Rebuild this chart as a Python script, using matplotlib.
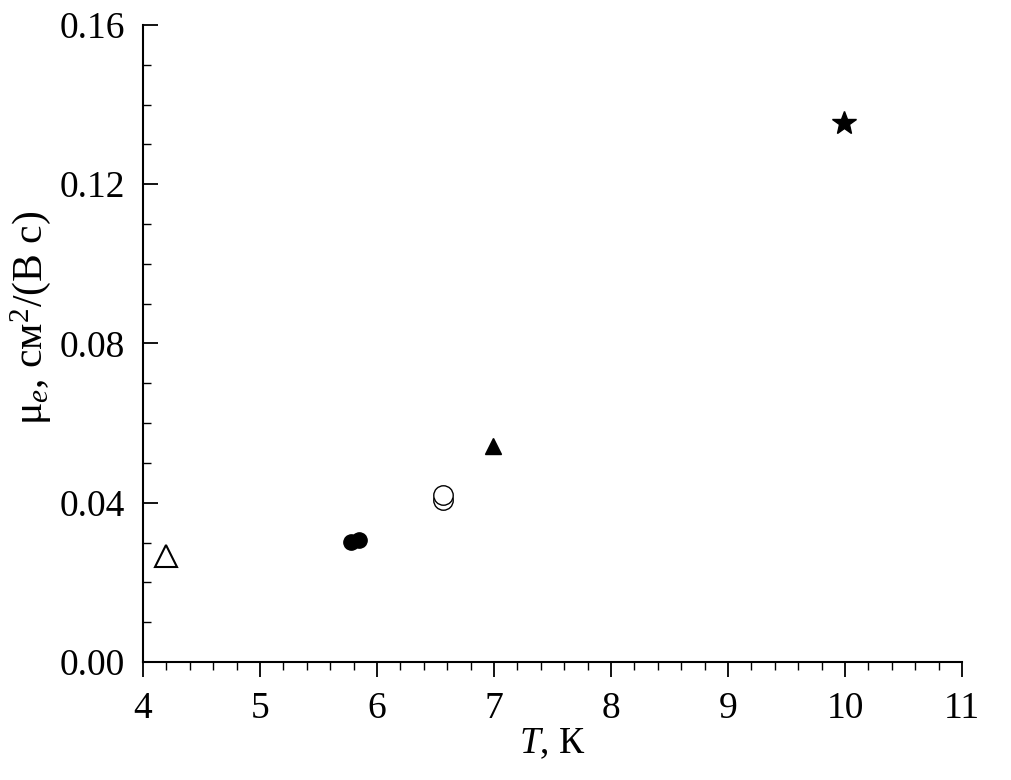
import matplotlib
matplotlib.use("Agg")
import matplotlib.pyplot as plt
from matplotlib.ticker import MultipleLocator

# данные
T_open_tri = [4.2]
mu_open_tri = [0.0265]

T_full_circ = [5.78, 5.85]
mu_full_circ = [0.0301, 0.0307]

T_open_circ = [6.56, 6.56]
mu_open_circ = [0.0408, 0.0420]

T_full_tri = [6.99]
mu_full_tri = [0.0543]

T_star = [9.99]
mu_star = [0.1353]

plt.rcParams['font.family'] = ['Liberation Serif', 'DejaVu Serif']
plt.rcParams['mathtext.fontset'] = 'custom'
plt.rcParams['mathtext.rm'] = 'Liberation Serif'
plt.rcParams['mathtext.it'] = 'Liberation Serif:italic'

fig = plt.figure(figsize=(10.12, 7.8), dpi=100)
ax = fig.add_axes([0.1413, 0.1513, 0.8093, 0.8167])

ax.plot(T_open_tri, mu_open_tri, '^', ms=16, mfc='white', mec='black', mew=1.5)
ax.plot(T_full_circ, mu_full_circ, 'o', ms=11, color='black')
ax.plot(T_open_circ, mu_open_circ, 'o', ms=14, mfc='white', mec='black', mew=1.0)
ax.plot(T_full_tri, mu_full_tri, '^', ms=11, color='black')
ax.plot(T_star, mu_star, '*', ms=18, color='black')

ax.set_xlim(4, 11)
ax.set_ylim(0, 0.16)
ax.xaxis.set_major_locator(MultipleLocator(1))
ax.xaxis.set_minor_locator(MultipleLocator(0.2))
ax.yaxis.set_major_locator(MultipleLocator(0.04))
ax.yaxis.set_minor_locator(MultipleLocator(0.01))
ax.yaxis.set_major_formatter(matplotlib.ticker.FormatStrFormatter('%.2f'))

ax.spines['top'].set_visible(False)
ax.spines['right'].set_visible(False)
for s in ['left', 'bottom']:
    ax.spines[s].set_linewidth(1.5)

ax.tick_params(axis='x', which='major', direction='out', length=11, width=1.3, labelsize=27, pad=10)
ax.tick_params(axis='x', which='minor', direction='out', length=6, width=1.0)
ax.tick_params(axis='y', which='major', direction='in', length=11, width=1.3, labelsize=27, pad=13)
ax.tick_params(axis='y', which='minor', direction='in', length=6, width=1.0)

ax.set_xlabel('$T$, К', fontsize=27, labelpad=1)
ax.set_ylabel('μ$_e$, см$^2$/(В с)', fontsize=30)
ax.yaxis.set_label_coords(-0.11, 0.54)

fig.savefig('out.png', dpi=100)
